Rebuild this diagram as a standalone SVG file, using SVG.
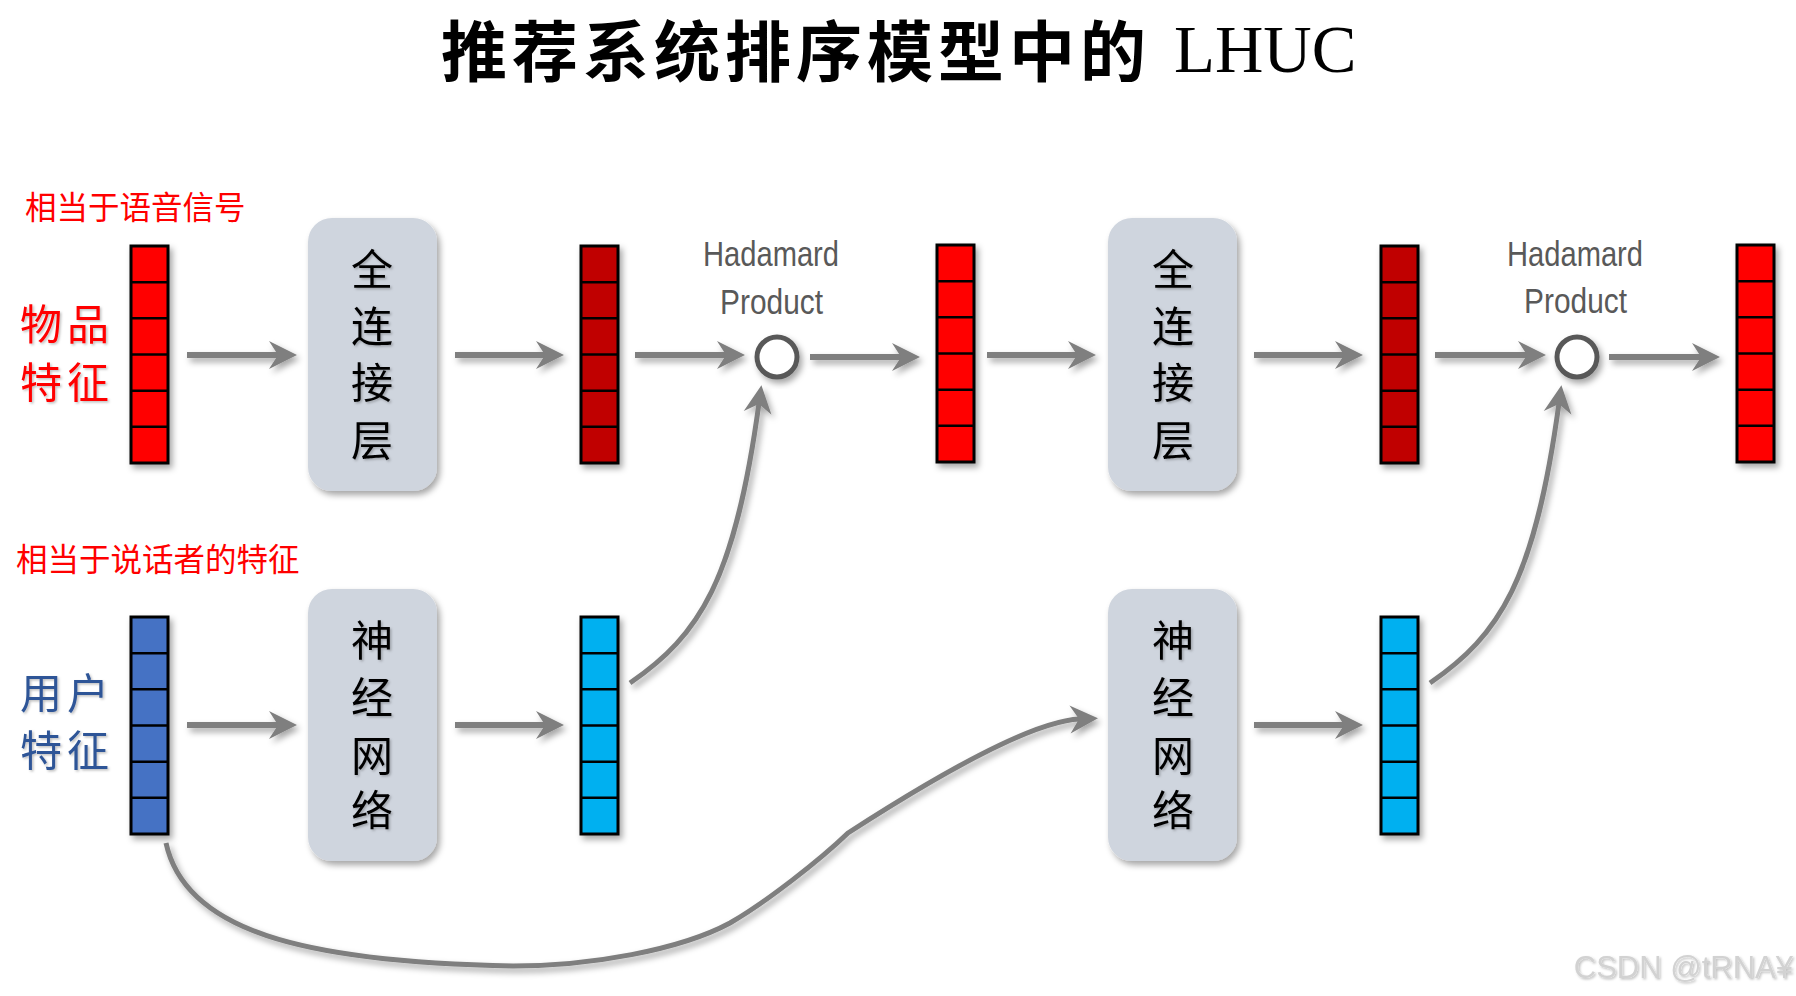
<svg xmlns="http://www.w3.org/2000/svg" xmlns:xlink="http://www.w3.org/1999/xlink" width="1796" height="996" viewBox="0 0 1796 996">
<style>
.cjk{font-family:"Noto Sans CJK SC","Noto Sans CJK TC",sans-serif;}
.title{font-size:66px;fill:#000;font-weight:bold;letter-spacing:5px;}
.lhuc{font-family:"Liberation Serif",serif;font-size:67px;font-weight:normal;letter-spacing:0;}
.note{font-size:31.5px;fill:#ff0000;}
.feat{font-size:42px;letter-spacing:5px;}
.boxtxt{font-size:42px;fill:#000;text-anchor:middle;}
.had{font-family:"Liberation Sans Narrow","Liberation Sans",sans-serif;font-size:35px;fill:#595959;}
.box{fill:#cfd5de;}
.bar{stroke:#000;stroke-width:3;}
.arr{fill:none;stroke:#7f7f7f;stroke-width:6;marker-end:url(#ah);}
.crv{fill:none;stroke:#7f7f7f;stroke-width:5;marker-end:url(#ah);}
.ring{fill:#fff;stroke:#595959;stroke-width:5;}
.wm{font-family:"Liberation Sans",Arial,sans-serif;font-size:31px;fill:#d2d2d2;}
</style>
<defs>
<filter id="sh" x="-20%" y="-20%" width="150%" height="150%">
<feDropShadow dx="3" dy="4" stdDeviation="3" flood-color="#000" flood-opacity="0.35"/>
</filter>
<filter id="tsh" x="-10%" y="-10%" width="130%" height="130%">
<feDropShadow dx="1.5" dy="1.5" stdDeviation="1" flood-color="#000" flood-opacity="0.25"/>
</filter>
<marker id="ah" markerUnits="userSpaceOnUse" viewBox="-30 -16 32 32" markerWidth="32" markerHeight="32" refX="-18" refY="0" orient="auto">
<path d="M-28,-14 L0,0 L-28,14 L-19,0 Z" fill="#7f7f7f"/>
</marker>
<g id="grid"><path d="M0,36.17 H37 M0,72.33 H37 M0,108.5 H37 M0,144.67 H37 M0,180.83 H37" stroke="#000" stroke-width="2.5" fill="none"/></g>
</defs>
<rect width="1796" height="996" fill="#fff"/>

<g id="title">
<text class="cjk title" x="441" y="76">推荐系统排序模型中的<tspan class="lhuc" x="1174" y="72">LHUC</tspan></text>
</g>

<g id="labels">
<text class="cjk note" x="25" y="219">相当于语音信号</text>
<text class="cjk note" x="16" y="571">相当于说话者的特征</text>
<g filter="url(#tsh)">
<text class="cjk feat" fill="#ff0000" x="20" y="340">物品</text>
<text class="cjk feat" fill="#ff0000" x="20" y="398">特征</text>
<text class="cjk feat" fill="#2f5597" x="20" y="709">用户</text>
<text class="cjk feat" fill="#2f5597" x="20" y="766">特征</text>
</g>
</g>

<g id="connectors">
<g filter="url(#sh)">
<path class="arr" d="M187,355 H279"/>
<path class="arr" d="M455,355 H546"/>
<path class="arr" d="M635,355 H727"/>
<path class="arr" d="M810,357 H902"/>
<path class="arr" d="M987,355 H1078"/>
<path class="arr" d="M1254,355 H1345"/>
<path class="arr" d="M1435,355 H1528"/>
<path class="arr" d="M1609,357 H1702"/>
<path class="arr" d="M187,725 H279"/>
<path class="arr" d="M455,725 H546"/>
<path class="arr" d="M1254,725 H1345"/>
<path class="crv" d="M630,683 C700,635 735,580 759,403"/>
<path class="crv" d="M1430,683 C1500,635 1535,580 1559,403"/>
<path class="crv" d="M166,843 C185,930 300,962 513,966 C590,966 680,950 730,923 C765,903 820,860 848,833 C930,780 1030,721 1080,719"/>
</g>
</g>

<g id="item-feature" filter="url(#sh)">
<rect class="bar" x="131" y="246" width="37" height="217" fill="#ff0000"/>
<use href="#grid" x="131" y="246"/>
</g>
<g id="fc1" >
<rect class="box" x="308" y="218" width="129" height="273" rx="24" filter="url(#sh)"/>
<g filter="url(#tsh)">
<text class="cjk boxtxt" x="372" y="285">全</text>
<text class="cjk boxtxt" x="372" y="342">连</text>
<text class="cjk boxtxt" x="372" y="398">接</text>
<text class="cjk boxtxt" x="372" y="456">层</text>
</g>
</g>
<g id="fc1-out" filter="url(#sh)">
<rect class="bar" x="581" y="246" width="37" height="217" fill="#c00000"/>
<use href="#grid" x="581" y="246"/>
</g>
<g id="hadamard1">
<text class="had" x="703" y="266" textLength="136" lengthAdjust="spacingAndGlyphs">Hadamard</text>
<text class="had" x="720" y="314" textLength="103" lengthAdjust="spacingAndGlyphs">Product</text>
<circle class="ring" cx="777" cy="357" r="20" filter="url(#sh)"/>
</g>
<g id="h1-out" filter="url(#sh)">
<rect class="bar" x="937" y="245" width="37" height="217" fill="#ff0000"/>
<use href="#grid" x="937" y="245"/>
</g>
<g id="fc2">
<rect class="box" x="1108" y="218" width="129" height="273" rx="24" filter="url(#sh)"/>
<g filter="url(#tsh)">
<text class="cjk boxtxt" x="1173" y="285">全</text>
<text class="cjk boxtxt" x="1173" y="342">连</text>
<text class="cjk boxtxt" x="1173" y="398">接</text>
<text class="cjk boxtxt" x="1173" y="456">层</text>
</g>
</g>
<g id="fc2-out" filter="url(#sh)">
<rect class="bar" x="1381" y="246" width="37" height="217" fill="#c00000"/>
<use href="#grid" x="1381" y="246"/>
</g>
<g id="hadamard2">
<text class="had" x="1507" y="266" textLength="136" lengthAdjust="spacingAndGlyphs">Hadamard</text>
<text class="had" x="1524" y="313" textLength="103" lengthAdjust="spacingAndGlyphs">Product</text>
<circle class="ring" cx="1577" cy="357" r="20" filter="url(#sh)"/>
</g>
<g id="h2-out" filter="url(#sh)">
<rect class="bar" x="1737" y="245" width="37" height="217" fill="#ff0000"/>
<use href="#grid" x="1737" y="245"/>
</g>

<g id="user-feature" filter="url(#sh)">
<rect class="bar" x="131" y="617" width="37" height="217" fill="#4472c4"/>
<use href="#grid" x="131" y="617"/>
</g>
<g id="nn1">
<rect class="box" x="308" y="589" width="129" height="272" rx="24" filter="url(#sh)"/>
<g filter="url(#tsh)">
<text class="cjk boxtxt" x="372" y="656">神</text>
<text class="cjk boxtxt" x="372" y="713">经</text>
<text class="cjk boxtxt" x="372" y="771">网</text>
<text class="cjk boxtxt" x="372" y="826">络</text>
</g>
</g>
<g id="nn1-out" filter="url(#sh)">
<rect class="bar" x="581" y="617" width="37" height="217" fill="#00b0f0"/>
<use href="#grid" x="581" y="617"/>
</g>
<g id="nn2">
<rect class="box" x="1108" y="589" width="129" height="272" rx="24" filter="url(#sh)"/>
<g filter="url(#tsh)">
<text class="cjk boxtxt" x="1173" y="656">神</text>
<text class="cjk boxtxt" x="1173" y="713">经</text>
<text class="cjk boxtxt" x="1173" y="771">网</text>
<text class="cjk boxtxt" x="1173" y="826">络</text>
</g>
</g>
<g id="nn2-out" filter="url(#sh)">
<rect class="bar" x="1381" y="617" width="37" height="217" fill="#00b0f0"/>
<use href="#grid" x="1381" y="617"/>
</g>

<g id="watermark">
<text class="wm" x="1793" y="978" text-anchor="end" filter="url(#tsh)">CSDN @tRNA¥</text>
</g>
</svg>
